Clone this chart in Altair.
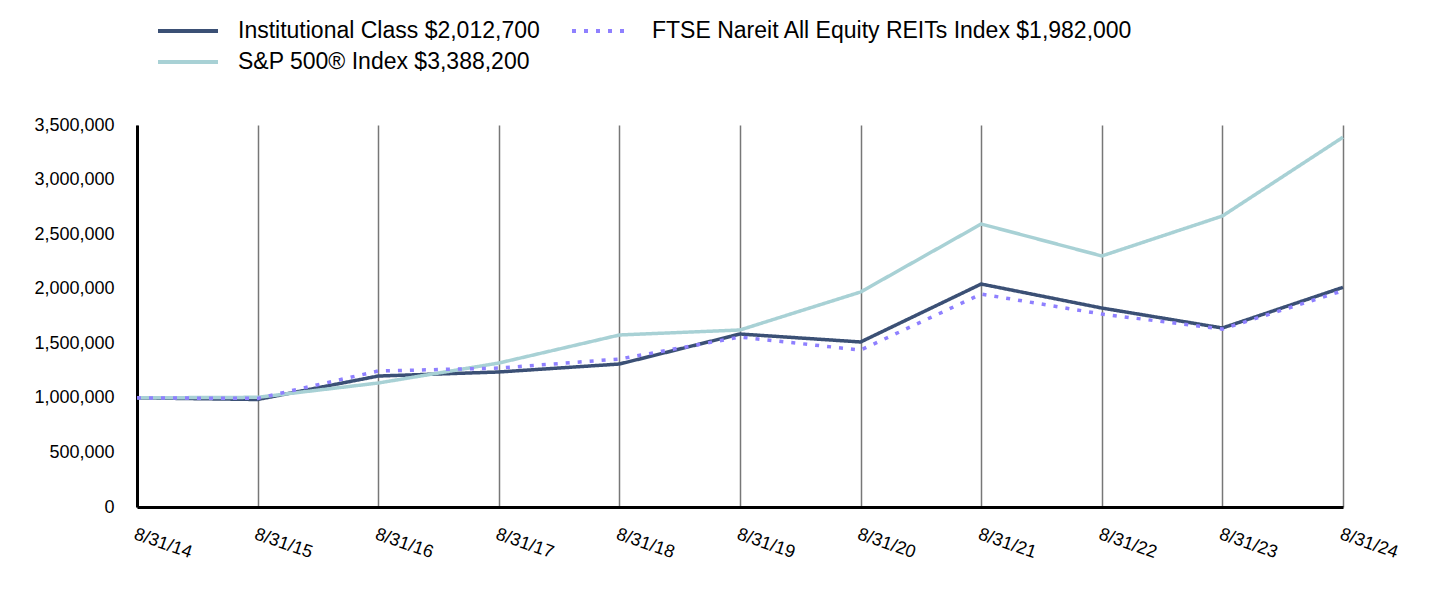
import altair as alt
import pandas as pd

dates = ["8/31/14", "8/31/15", "8/31/16", "8/31/17", "8/31/18", "8/31/19",
         "8/31/20", "8/31/21", "8/31/22", "8/31/23", "8/31/24"]
institutional = [1000000, 985000, 1200000, 1237000, 1310000, 1585000,
                 1512000, 2043000, 1823000, 1640000, 2012700]
sp500 = [1000000, 1005000, 1136000, 1319000, 1576000, 1622000,
         1970000, 2593000, 2300000, 2666000, 3388200]
ftse = [1000000, 995000, 1246000, 1273000, 1356000, 1557000,
        1438000, 1951000, 1768000, 1630000, 1982000]

# legend is laid out column-major: col 1 = Institutional, S&P; col 2 = FTSE
names = ["Institutional Class $2,012,700",
         "S&P 500® Index $3,388,200",
         "FTSE Nareit All Equity REITs Index $1,982,000"]
colors = ["#3B5075", "#A8D1D5", "#8F80FF"]
dashes = [[1, 0], [1, 0], [4, 8]]

rows = []
for n, vals in zip(names, [institutional, sp500, ftse]):
    for d, v in zip(dates, vals):
        rows.append({"date": d, "value": v, "series": n})
df = pd.DataFrame(rows)

font = "Liberation Sans"

legend_kw = dict(title=None, orient="none", legendX=34, legendY=-111, columns=2,
                 symbolType="M-2,0H2", symbolSize=900, symbolStrokeWidth=4,
                 labelFont=font, labelFontSize=23, labelColor="#000",
                 labelOffset=33, columnPadding=24, rowPadding=2, padding=0,
                 labelLimit=700)

chart = alt.Chart(df).mark_line(strokeWidth=3.5, strokeCap="butt").encode(
    x=alt.X("date:N", sort=dates,
            scale=alt.Scale(type="point", padding=0),
            axis=alt.Axis(title=None, labelAngle=19, labelAlign="left",
                          labelBaseline="top", labelPadding=18,
                          labelFont=font, labelFontSize=18, labelColor="#000",
                          ticks=False, domainColor="#000", domainWidth=3,
                          grid=True, gridColor="#777", gridWidth=1.5)),
    y=alt.Y("value:Q",
            scale=alt.Scale(domain=[0, 3500000], nice=False),
            axis=alt.Axis(title=None, values=[0, 500000, 1000000, 1500000, 2000000,
                                              2500000, 3000000, 3500000],
                          format=",.0f", labelFont=font, labelFontSize=18,
                          labelColor="#000", labelPadding=23, ticks=False,
                          domainColor="#000", domainWidth=3, grid=False)),
    color=alt.Color("series:N", scale=alt.Scale(domain=names, range=colors),
                    legend=alt.Legend(**legend_kw)),
    strokeDash=alt.StrokeDash("series:N", scale=alt.Scale(domain=names, range=dashes),
                              legend=alt.Legend(**legend_kw)),
).properties(
    width=1206, height=382,
    autosize=alt.AutoSizeParams(type="none"),
    padding={"left": 129, "top": 117, "right": 60, "bottom": 80},
).configure_view(stroke=None)

chart.save("out.html", embed_options={"renderer": "svg", "actions": False})
